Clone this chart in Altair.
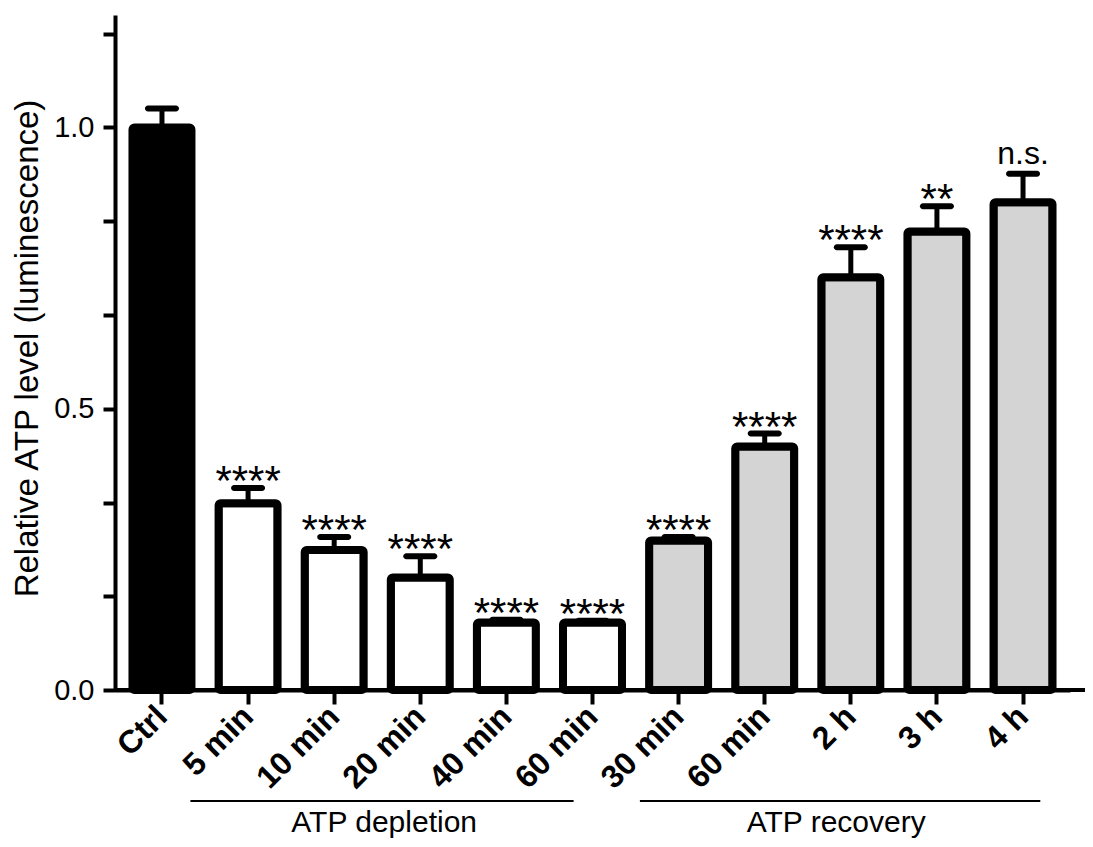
import json
import altair as alt
import pandas as pd

# ---- data ----
categories = ["Ctrl", "5 min", "10 min", "20 min", "40 min", "60 min",
              "30 min", "60 min", "2 h", "3 h", "4 h"]
groups = ["ctrl", "depletion", "depletion", "depletion", "depletion", "depletion",
          "recovery", "recovery", "recovery", "recovery", "recovery"]
means = [1.000, 0.332, 0.249, 0.200, 0.120, 0.120, 0.266, 0.433, 0.734, 0.815, 0.867]
errors = [0.034, 0.027, 0.023, 0.038, 0.005, 0.003, 0.006, 0.023, 0.053, 0.045, 0.051]
significance = ["", "****", "****", "****", "****", "****",
                "****", "****", "****", "**", "n.s."]
# group annotations (positions in category-index units)
group_names = ["ATP depletion", "ATP recovery"]
group_start = [0.33, 5.55]
group_end = [4.78, 10.2]
group_mid = [2.58, 7.83]

df = pd.DataFrame({
    "idx": list(range(len(categories))),
    "cat": categories,
    "group": groups,
    "mean": means,
    "err": errors,
    "sig": significance,
})
df["upper"] = df["mean"] + df["err"]

FONT = "Liberation Sans"
W, H = 955, 675

label_expr = json.dumps(categories) + "[datum.value]"
x_scale = alt.Scale(paddingInner=0.315, paddingOuter=0.203)
x_axis = alt.Axis(labelExpr=label_expr, labelAngle=-45, labelAlign="right",
                  labelBaseline="middle", labelFont=FONT, labelFontSize=32,
                  labelFontWeight="bold", labelColor="black", labelPadding=7,
                  tickSize=14, tickWidth=4, tickColor="black",
                  domainWidth=4, domainColor="black", title=None, grid=False)
y_scale = alt.Scale(domain=[0, 1.2], nice=False, zero=True)
y_axis = alt.Axis(values=[i / 6 for i in range(8)],
                  labelExpr="abs(datum.value*2 - round(datum.value*2)) < 0.001 ? format(datum.value, '.1f') : ''",
                  labelFont=FONT, labelFontSize=29, labelColor="black", labelPadding=9,
                  tickSize=12, tickWidth=4, tickColor="black",
                  domainWidth=4, domainColor="black", grid=False,
                  title="Relative ATP level (luminescence)", titleFont=FONT,
                  titleFontSize=33, titleFontWeight="normal", titleColor="black",
                  titleX=-88, titleY=333, titleAngle=270, titleAlign="center",
                  titleBaseline="middle")

X = lambda: alt.X("idx:O", scale=x_scale, axis=x_axis)
Y = lambda f: alt.Y(f, scale=y_scale, axis=y_axis)

base = alt.Chart(df)

stems = base.mark_rule(strokeWidth=5, color="black").encode(
    x=X(), y=Y("mean:Q"), y2="upper:Q")

bars = base.mark_bar(stroke="black", strokeWidth=8, strokeJoin="round",
                     cornerRadius=2).encode(
    x=X(), y=Y("mean:Q"),
    color=alt.Color("group:N",
                    scale=alt.Scale(domain=["ctrl", "depletion", "recovery"],
                                    range=["#000000", "#ffffff", "#d4d4d4"]),
                    legend=None))

caps = base.mark_tick(size=34, thickness=6, cornerRadius=3, color="black",
                      opacity=1).encode(x=X(), y=Y("upper:Q"))

stars = base.transform_filter("datum.sig != '' && datum.sig != 'n.s.'").mark_text(
    font=FONT, fontSize=42, baseline="alphabetic", dy=7, color="black").encode(
    x=X(), y=Y("upper:Q"), text="sig:N")

ns = base.transform_filter("datum.sig == 'n.s.'").mark_text(
    font=FONT, fontSize=32, baseline="alphabetic", dy=-10, color="black").encode(
    x=X(), y=Y("upper:Q"), text="sig:N")

main = alt.layer(stems, bars, caps, stars, ns)

# annotation layer on a linear scale aligned to category indices
ann_scale = alt.Scale(domain=[-0.546, 10.545], nice=False, zero=False)
gdf = pd.DataFrame({"start": group_start, "end": group_end, "mid": group_mid,
                    "name": group_names})
ann = alt.Chart(gdf)
axis_ext = alt.Chart(pd.DataFrame({"a": [0]})).mark_rule(
    strokeWidth=4, color="black").encode(
    x=alt.value(0), x2=alt.value(975), y=alt.value(H))
glines = ann.mark_rule(strokeWidth=2, color="black").encode(
    x=alt.X("start:Q", scale=ann_scale, axis=None), x2="end:Q",
    y=alt.value(H + 111))
gtext = ann.mark_text(font=FONT, fontSize=30, baseline="alphabetic",
                      color="black").encode(
    x=alt.X("mid:Q", scale=ann_scale, axis=None),
    y=alt.value(H + 142), text="name:N")
annotations = alt.layer(axis_ext, glines, gtext)

chart = alt.layer(main, annotations).resolve_scale(x="independent").properties(
    width=W, height=H,
    autosize=alt.AutoSizeParams(type="none"),
    padding={"left": 107, "top": 7, "right": 15, "bottom": 149},
    background="white",
).configure_view(stroke=None)

chart.save("out.html", embed_options={"renderer": "svg", "actions": False})
